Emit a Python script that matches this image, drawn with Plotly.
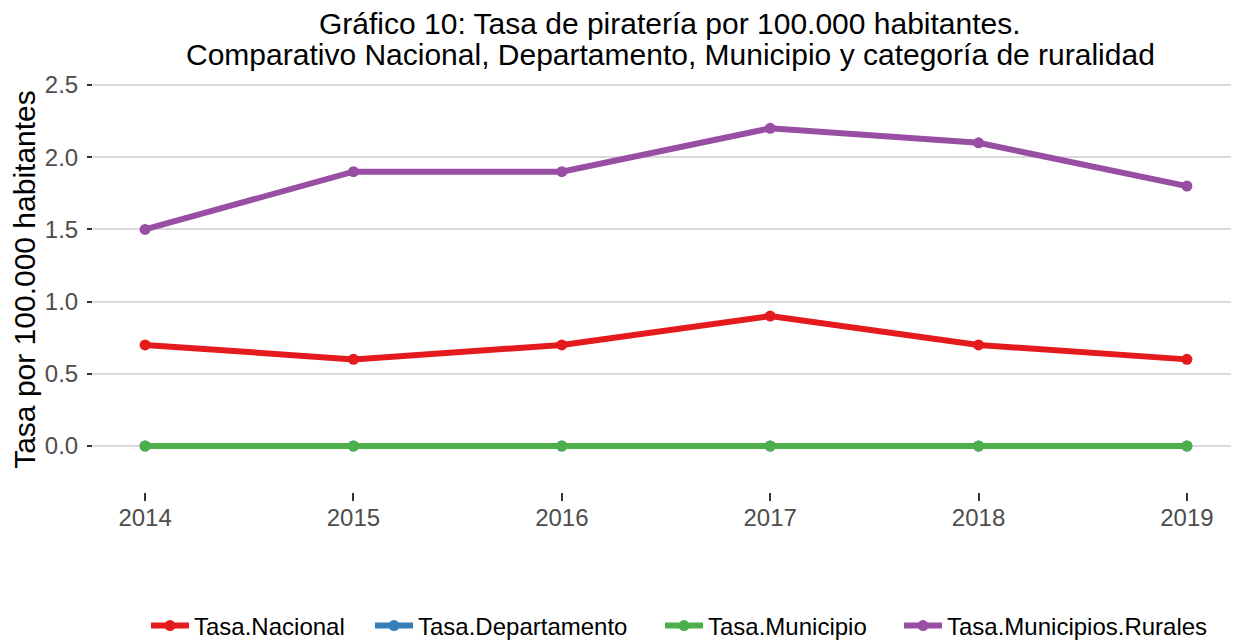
import plotly.graph_objects as go

years = [2014, 2015, 2016, 2017, 2018, 2019]
nacional = [0.7, 0.6, 0.7, 0.9, 0.7, 0.6]
departamento = [0, 0, 0, 0, 0, 0]
municipio = [0, 0, 0, 0, 0, 0]
rurales = [1.5, 1.9, 1.9, 2.2, 2.1, 1.8]
y_ticks = [0, 0.5, 1.0, 1.5, 2.0, 2.5]
y_labels = ["0.0", "0.5", "1.0", "1.5", "2.0", "2.5"]
title_lines = [
    "Gráfico 10: Tasa de piratería por 100.000 habitantes.",
    "Comparativo Nacional, Departamento, Municipio y categoría de ruralidad",
]

series = [
    ("Tasa.Nacional", nacional, "#E41A1C"),
    ("Tasa.Departamento", departamento, "#377EB8"),
    ("Tasa.Municipio", municipio, "#4DAF4A"),
    ("Tasa.Municipios.Rurales", rurales, "#984EA3"),
]

# layout geometry (figure pixels; page body adds 8px offset)
L, R, T, B = 85, 8, 59, 156
W, H = 1239, 640
pw = W - L - R
ph = H - T - B

legend_ids = ["legend", "legend2", "legend3", "legend4"]
legend_left_screen = [146, 370, 660, 899]

fig = go.Figure()
for (name, vals, col), lid in zip(series, legend_ids):
    fig.add_trace(go.Scatter(
        x=years, y=vals, name=name, mode="lines+markers",
        line=dict(color=col, width=6),
        marker=dict(color=col, size=11),
        legend=lid,
    ))

font_family = "Liberation Sans, Arial, sans-serif"

for txt, yscr in zip(title_lines, [23, 55]):
    fig.add_annotation(
        text=txt, xref="paper", yref="paper", x=(670 - 8 - L) / pw, y=(H - B - (yscr - 8)) / ph,
        xanchor="center", yanchor="middle", showarrow=False, borderpad=0,
        font=dict(size=30, color="black", family=font_family),
    )

legend_cfg = {}
for lid, xs in zip(legend_ids, legend_left_screen):
    legend_cfg[lid] = dict(
        orientation="h", x=(xs - 8 - L) / pw, xanchor="left",
        y=(H - B - (626 - 8)) / ph, yanchor="middle",
        font=dict(size=24, color="black"), itemwidth=38,
        bgcolor="rgba(0,0,0,0)",
    )

fig.update_layout(
    width=W, height=H,
    paper_bgcolor="white", plot_bgcolor="white",
    margin=dict(l=L, r=R, t=T, b=B, autoexpand=False),
    font=dict(family=font_family, color="black"),
    showlegend=True,
    xaxis=dict(
        range=[2013.75, 2019.25], tickvals=years, ticktext=[str(y) for y in years],
        showgrid=False, zeroline=False, showline=False,
        ticks="outside", ticklen=8, tickwidth=2, tickcolor="#333333",
        ticklabelstandoff=-4,
        tickfont=dict(size=24, color="#4D4D4D"),
    ),
    yaxis=dict(
        range=[-0.3186, 2.625], tickvals=y_ticks, ticktext=y_labels,
        showgrid=True, gridcolor="#DADADA", gridwidth=2,
        zeroline=False, showline=False,
        ticks="outside", ticklen=5, tickwidth=2, tickcolor="#333333",
        ticklabelstandoff=4,
        tickfont=dict(size=24, color="#4D4D4D"),
        title=dict(text="Tasa por 100.000 habitantes", font=dict(size=30, color="black"), standoff=6),
    ),
    **legend_cfg,
)

fig.write_html("out.html")
